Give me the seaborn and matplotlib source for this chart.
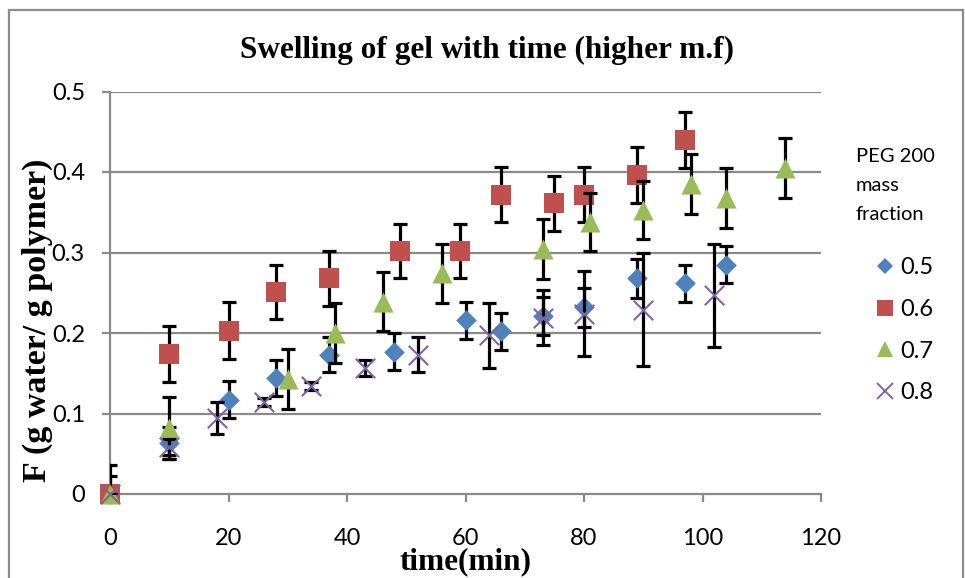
import matplotlib
matplotlib.use("Agg")
import matplotlib.pyplot as plt
from matplotlib.lines import Line2D
from matplotlib.patches import Rectangle
import seaborn as sns
import pandas as pd

# ---- data ----
t05 = [0, 10, 20, 28, 37, 48, 60, 66, 73, 80, 89, 97, 104]
f05 = [0, 0.063, 0.117, 0.144, 0.173, 0.177, 0.216, 0.202, 0.221, 0.232, 0.268, 0.262, 0.285]
e05 = [0.036, 0.02, 0.023, 0.022, 0.022, 0.023, 0.023, 0.023, 0.024, 0.024, 0.024, 0.023, 0.023]

t06 = [0, 10, 20, 28, 37, 49, 59, 66, 75, 80, 89, 97]
f06 = [0, 0.174, 0.203, 0.251, 0.268, 0.302, 0.302, 0.372, 0.361, 0.372, 0.396, 0.44]
e06 = [0.0, 0.035, 0.035, 0.034, 0.034, 0.034, 0.034, 0.034, 0.034, 0.034, 0.035, 0.035]

t07 = [0, 10, 30, 38, 46, 56, 73, 81, 90, 98, 104, 114]
f07 = [0, 0.082, 0.143, 0.2, 0.239, 0.274, 0.304, 0.338, 0.353, 0.385, 0.368, 0.405]
e07 = [0.022, 0.038, 0.037, 0.037, 0.037, 0.037, 0.037, 0.036, 0.036, 0.037, 0.037, 0.037]

t08 = [0, 10, 18, 26, 34, 43, 52, 64, 73, 80, 90, 102]
f08 = [0, 0.058, 0.094, 0.114, 0.134, 0.157, 0.173, 0.197, 0.219, 0.224, 0.229, 0.247]
e08 = [0.0, 0.01, 0.02, 0.005, 0.005, 0.01, 0.022, 0.04, 0.034, 0.053, 0.07, 0.064]

series_labels = ["0.5", "0.6", "0.7", "0.8"]
x_ticks = [0, 20, 40, 60, 80, 100, 120]
y_ticks = [0, 0.1, 0.2, 0.3, 0.4, 0.5]
y_tick_labels = ["0", "0.1", "0.2", "0.3", "0.4", "0.5"]

title = "Swelling of gel with time (higher m.f)"
xlabel = "time(min)"
ylabel = "F (g water/ g polymer)"
legend_title = "PEG 200\nmass\nfraction"

# ---- styling ----
colors = ["#4F81BD", "#C0504D", "#9BBB59", "#8064A2"]
markers = ["D", "s", "^", "x"]
msizes = [10.5, 14.5, 14.5, 14.0]

sns.set_theme(style="white")
plt.rcParams["font.family"] = ["Lato", "DejaVu Sans"]
plt.rcParams["text.color"] = "black"
plt.rcParams["axes.labelcolor"] = "black"

fig = plt.figure(figsize=(9.65, 5.78), dpi=100)
ax = fig.add_axes([110 / 965, 1 - 494 / 578, (821 - 110) / 965, (494 - 91.5) / 578])

data = [(t05, f05, e05), (t06, f06, e06), (t07, f07, e07), (t08, f08, e08)]
frames = []
for lab, (t, f, e) in zip(series_labels, data):
    frames.append(pd.DataFrame({"time": t, "F": f, "err": e, "series": lab}))
df = pd.concat(frames, ignore_index=True)

for i, lab in enumerate(series_labels):
    sub = df[df["series"] == lab]
    ax.errorbar(sub["time"], sub["F"], yerr=sub["err"], fmt="none", ecolor="black",
                elinewidth=2.3, capsize=5.2, capthick=2.3, zorder=3 + 2 * i)
    kw = dict(x="time", y="F", data=sub, ax=ax, marker=markers[i],
              s=msizes[i] ** 2, zorder=4 + 2 * i, clip_on=False, legend=False)
    if markers[i] == "x":
        sns.scatterplot(color=colors[i], linewidth=1.5, **kw)
    else:
        sns.scatterplot(color=colors[i], linewidth=0, **kw)

ax.set_xlim(0, 120)
ax.set_ylim(0, 0.5)
ax.set_xticks(x_ticks)
ax.set_yticks(y_ticks)
ax.set_yticklabels(y_tick_labels)

grid_c = "#898989"
ax.grid(False)
for y in y_ticks[1:]:
    ax.axhline(y, color=grid_c, lw=1.6, zorder=1)
for side in ["top", "right"]:
    ax.spines[side].set_visible(False)
for side in ["left", "bottom"]:
    ax.spines[side].set_color(grid_c)
    ax.spines[side].set_linewidth(1.6)
    ax.spines[side].set_zorder(1)

ax.tick_params(axis="both", which="major", direction="out", length=6, width=1.6,
               color=grid_c, labelsize=17, labelcolor="black")
ax.tick_params(axis="x", pad=18.5, bottom=True)
ax.tick_params(axis="y", pad=12, left=True)

ax.set_xlabel(xlabel, family="Liberation Serif", fontweight="bold", fontsize=22.5)
ax.xaxis.set_label_coords(0.5, (494 - 576.5) / 402.5)
ax.xaxis.label.set_va("bottom")
ax.set_ylabel(ylabel, family="Liberation Serif", fontweight="bold", fontsize=24.5)
ax.yaxis.set_label_coords((53 - 110) / 711, (494 - 320) / 402.5)

fig.text(487 / 965, 1 - 50 / 578, title, family="Liberation Serif", fontweight="bold",
         fontsize=22.5, ha="center", va="center")

# legend title (multi-line, left aligned) and entries
fig.text(856 / 965, 1 - 148 / 578, legend_title, fontsize=14.5, ha="left", va="top",
         linespacing=1.85)
handles = [Line2D([], [], linestyle="none", marker=markers[i], color=colors[i],
                  markersize=msizes[i] * 0.8, markeredgewidth=(1.4 if markers[i] == "x" else 0))
           for i in range(4)]
leg = fig.legend(handles, series_labels, loc="upper left",
                 bbox_to_anchor=(873 / 965, 1 - 257 / 578), frameon=False,
                 fontsize=17, handlelength=1.0, handletextpad=0.15,
                 labelspacing=0.88, borderpad=0, borderaxespad=0)

fig.add_artist(Rectangle((9 / 965, -0.05), (963 - 9) / 965, 1.05 - 10 / 578,
                         transform=fig.transFigure, fill=False, edgecolor="#8c8c8c", lw=1.6))

fig.savefig("out.png", dpi=100)
